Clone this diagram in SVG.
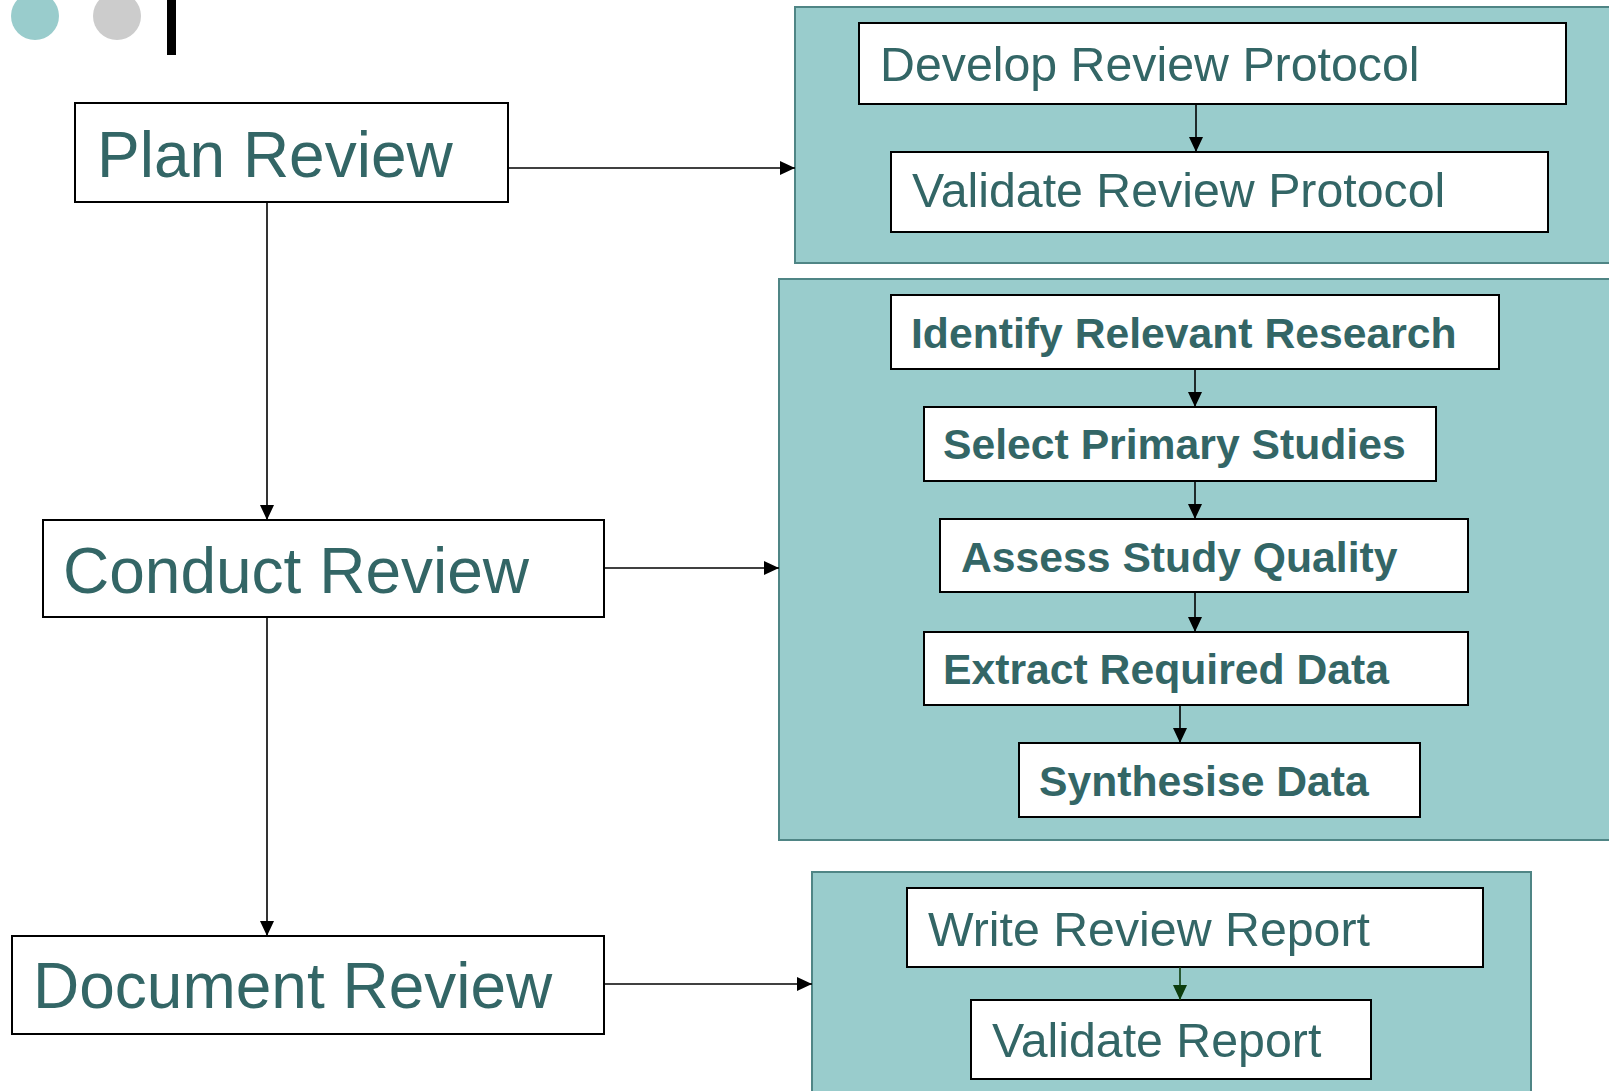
<svg xmlns="http://www.w3.org/2000/svg" width="1609" height="1091" viewBox="0 0 1609 1091">
  <style>
    .panel { fill: #99cccc; stroke: #4f8585; stroke-width: 2; }
    .box { fill: #ffffff; stroke: #000000; stroke-width: 2; }
    .big { font-family: "Liberation Sans", Arial, sans-serif; font-size: 64px; fill: #336666; }
    .step { font-family: "Liberation Sans", Arial, sans-serif; font-size: 48.3px; fill: #336666; }
    .bold { font-family: "Liberation Sans", Arial, sans-serif; font-size: 42.7px; font-weight: bold; fill: #336666; }
    .link { fill: none; stroke: #000000; stroke-width: 1.6; }
    .link-green { fill: none; stroke: #0d3d0d; stroke-width: 1.6; }
  </style>
  <defs>
    <marker id="arrow" markerUnits="userSpaceOnUse" markerWidth="15" markerHeight="14" refX="15" refY="7" orient="auto">
      <path d="M0,0 L15,7 L0,14 z" fill="#000000"/>
    </marker>
    <marker id="arrow-green" markerUnits="userSpaceOnUse" markerWidth="15" markerHeight="14" refX="15" refY="7" orient="auto">
      <path d="M0,0 L15,7 L0,14 z" fill="#0d3d0d"/>
    </marker>
  </defs>

  <rect width="1609" height="1091" fill="#ffffff"/>

  <!-- title decoration -->
  <g id="decor">
    <circle cx="35" cy="16" r="24" fill="#99cccc"/>
    <circle cx="117" cy="16" r="24" fill="#cccccc"/>
    <rect x="167" y="0" width="9" height="55" fill="#000000"/>
  </g>

  <!-- sub-step panels -->
  <g id="panel-plan"><rect class="panel" x="795" y="7" width="830" height="256"/></g>
  <g id="panel-conduct"><rect class="panel" x="779" y="279" width="846" height="561"/></g>
  <g id="panel-document"><rect class="panel" x="812" y="872" width="719" height="240"/></g>

  <!-- main phases -->
  <g id="plan-review">
    <rect class="box" x="75" y="103" width="433" height="99"/>
    <text class="big" x="97" y="177">Plan Review</text>
  </g>
  <g id="conduct-review">
    <rect class="box" x="43" y="520" width="561" height="97"/>
    <text class="big" x="63" y="593">Conduct Review</text>
  </g>
  <g id="document-review">
    <rect class="box" x="12" y="936" width="592" height="98"/>
    <text class="big" x="33" y="1008">Document Review</text>
  </g>

  <!-- planning steps -->
  <g id="develop-protocol">
    <rect class="box" x="859" y="23" width="707" height="81"/>
    <text class="step" x="880" y="81">Develop Review Protocol</text>
  </g>
  <g id="validate-protocol">
    <rect class="box" x="891" y="152" width="657" height="80"/>
    <text class="step" x="912" y="207">Validate Review Protocol</text>
  </g>

  <!-- conducting steps -->
  <g id="identify-research">
    <rect class="box" x="891" y="295" width="608" height="74"/>
    <text class="bold" x="911" y="348">Identify Relevant Research</text>
  </g>
  <g id="select-studies">
    <rect class="box" x="924" y="407" width="512" height="74"/>
    <text class="bold" x="943" y="459">Select Primary Studies</text>
  </g>
  <g id="assess-quality">
    <rect class="box" x="940" y="519" width="528" height="73"/>
    <text class="bold" x="961" y="572">Assess Study Quality</text>
  </g>
  <g id="extract-data">
    <rect class="box" x="924" y="632" width="544" height="73"/>
    <text class="bold" x="943" y="684">Extract Required Data</text>
  </g>
  <g id="synthesise-data">
    <rect class="box" x="1019" y="743" width="401" height="74"/>
    <text class="bold" x="1039" y="796">Synthesise Data</text>
  </g>

  <!-- reporting steps -->
  <g id="write-report">
    <rect class="box" x="907" y="888" width="576" height="79"/>
    <text class="step" x="928" y="946">Write Review Report</text>
  </g>
  <g id="validate-report">
    <rect class="box" x="971" y="1000" width="400" height="79"/>
    <text class="step" x="992" y="1057">Validate Report</text>
  </g>

  <!-- connectors -->
  <g id="connectors">
    <line class="link" x1="267" y1="202" x2="267" y2="520" marker-end="url(#arrow)"/>
    <line class="link" x1="267" y1="617" x2="267" y2="936" marker-end="url(#arrow)"/>
    <line class="link" x1="508" y1="168" x2="795" y2="168" marker-end="url(#arrow)"/>
    <line class="link" x1="604" y1="568" x2="779" y2="568" marker-end="url(#arrow)"/>
    <line class="link" x1="604" y1="984" x2="812" y2="984" marker-end="url(#arrow)"/>
    <line class="link" x1="1196" y1="104" x2="1196" y2="152" marker-end="url(#arrow)"/>
    <line class="link" x1="1195" y1="369" x2="1195" y2="407" marker-end="url(#arrow)"/>
    <line class="link" x1="1195" y1="481" x2="1195" y2="519" marker-end="url(#arrow)"/>
    <line class="link" x1="1195" y1="592" x2="1195" y2="632" marker-end="url(#arrow)"/>
    <line class="link" x1="1180" y1="705" x2="1180" y2="743" marker-end="url(#arrow)"/>
    <line class="link-green" x1="1180" y1="967" x2="1180" y2="1000" marker-end="url(#arrow-green)"/>
  </g>
</svg>
